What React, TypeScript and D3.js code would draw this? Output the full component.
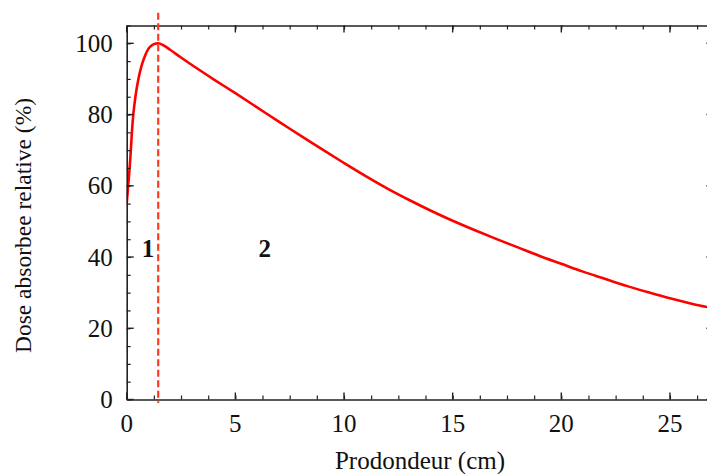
import React, { useRef, useEffect } from "react";
import * as d3 from "d3";

const width = 707;
const height = 474;
const margin = { left: 126.7, top: 25.5, bottom: 74.5 };
const pxPerCm = 21.73;

// depth (cm) and relative absorbed dose (%)
const depths = [0, 0.15, 0.31, 0.53, 0.77, 1.07, 1.45, 1.7, 2, 2.5, 3, 4, 5, 6, 7, 8, 9, 10, 11, 12, 13, 14, 15, 16, 17, 18, 19, 20, 21, 22, 23, 24, 25, 26, 26.75];
const doses = [55, 66.3, 80.4, 89.7, 95.3, 99, 100, 99.4, 98.2, 96, 93.9, 89.9, 86, 82, 78, 74.1, 70.2, 66.4, 62.7, 59.2, 56, 53, 50.2, 47.6, 45.1, 42.7, 40.3, 38.1, 35.9, 33.9, 31.9, 30.1, 28.4, 26.9, 25.9];

const xTicks = [0, 5, 10, 15, 20, 25];
const yTicks = [0, 20, 40, 60, 80, 100];
const dmax = 1.45;
const zones = [
  { label: "1", x: 0.98, y: 42.3 },
  { label: "2", x: 6.35, y: 42.3 },
];

const font = "'Liberation Serif', 'Times New Roman', serif";

const App = () => {
  const ref = useRef<SVGSVGElement>(null);

  useEffect(() => {
    const svg = d3.select(ref.current);
    svg.selectAll("*").remove();

    const xMax = 27;
    const x = d3.scaleLinear().domain([0, xMax]).range([margin.left, margin.left + xMax * pxPerCm]);
    const y = d3.scaleLinear().domain([0, 105]).range([height - margin.bottom, margin.top]);

    svg.append("defs").append("clipPath").attr("id", "plotclip")
      .append("rect")
      .attr("x", x(0)).attr("y", y(105))
      .attr("width", x(xMax) - x(0)).attr("height", y(0) - y(105));

    const data = depths.map((d, i) => ({ x: d, y: doses[i] }));
    const line = d3.line<{ x: number; y: number }>()
      .x(d => x(d.x)).y(d => y(d.y))
      .curve(d3.curveCatmullRom.alpha(0.5));

    svg.append("path")
      .datum(data)
      .attr("clip-path", "url(#plotclip)")
      .attr("fill", "none")
      .attr("stroke", "#ff0000")
      .attr("stroke-width", 2.6)
      .attr("d", line);

    // axes with inward ticks
    const axisColor = "#222";
    const xMinor = d3.range(0, xMax + 0.01, 1.25);
    const yMinor = d3.range(0, 106, 5);

    const bottom = svg.append("g").attr("transform", `translate(0,${y(0)})`)
      .call(d3.axisBottom(x).tickValues(xMinor).tickSize(-4).tickSizeOuter(0).tickFormat(() => ""));
    const top = svg.append("g").attr("transform", `translate(0,${y(105)})`)
      .call(d3.axisTop(x).tickValues(xMinor).tickSize(-4).tickSizeOuter(0).tickFormat(() => ""));
    const left = svg.append("g").attr("transform", `translate(${x(0)},0)`)
      .call(d3.axisLeft(y).tickValues(yMinor).tickSize(-4).tickSizeOuter(0).tickFormat(() => ""));
    const right = svg.append("g").attr("transform", `translate(${x(xMax)},0)`)
      .call(d3.axisRight(y).tickValues(yMinor).tickSize(-4).tickSizeOuter(0).tickFormat(() => ""));

    [bottom, top, left, right].forEach(g => {
      g.selectAll(".domain").attr("stroke", axisColor).attr("stroke-width", 1.6);
      g.selectAll(".tick line").attr("stroke", axisColor).attr("stroke-width", 1.2);
    });

    // major ticks (longer)
    const major = svg.append("g").attr("stroke", axisColor).attr("stroke-width", 1.4);
    xTicks.forEach(t => {
      major.append("line").attr("x1", x(t)).attr("x2", x(t)).attr("y1", y(0)).attr("y2", y(0) - 7);
      major.append("line").attr("x1", x(t)).attr("x2", x(t)).attr("y1", y(105)).attr("y2", y(105) + 7);
    });
    yTicks.forEach(t => {
      major.append("line").attr("x1", x(0)).attr("x2", x(0) + 7).attr("y1", y(t)).attr("y2", y(t));
      major.append("line").attr("x1", x(xMax)).attr("x2", x(xMax) - 7).attr("y1", y(t)).attr("y2", y(t));
    });

    // tick labels
    svg.append("g").selectAll("text").data(xTicks).join("text")
      .attr("x", d => x(d)).attr("y", y(0) + 32)
      .attr("text-anchor", "middle")
      .attr("font-family", font).attr("font-size", 25).attr("fill", "#111")
      .text(d => d);

    svg.append("g").selectAll("text").data(yTicks).join("text")
      .attr("x", x(0) - 14).attr("y", d => y(d))
      .attr("dy", "0.34em")
      .attr("text-anchor", "end")
      .attr("font-family", font).attr("font-size", 25).attr("fill", "#111")
      .text(d => d);

    // dmax dashed line
    svg.append("line")
      .attr("x1", x(dmax)).attr("x2", x(dmax))
      .attr("y1", y(108.6)).attr("y2", y(-1))
      .attr("stroke", "#ff3b1f")
      .attr("stroke-width", 2.2)
      .attr("stroke-dasharray", "7,3.5");

    // zone labels
    svg.append("g").selectAll("text").data(zones).join("text")
      .attr("x", d => x(d.x)).attr("y", d => y(d.y))
      .attr("dy", "0.34em")
      .attr("text-anchor", "middle")
      .attr("font-family", font).attr("font-size", 25).attr("font-weight", "bold").attr("fill", "#111")
      .text(d => d.label);

    // axis titles
    svg.append("text")
      .attr("x", 420).attr("y", height - 5)
      .attr("text-anchor", "middle")
      .attr("font-family", font).attr("font-size", 25).attr("fill", "#111")
      .text("Prodondeur (cm)");

    svg.append("text")
      .attr("transform", `translate(31,${(y(0) + y(105)) / 2 + 13}) rotate(-90)`)
      .attr("text-anchor", "middle")
      .attr("font-family", font).attr("font-size", 23.5).attr("fill", "#111")
      .text("Dose absorbee relative (%)");
  }, []);

  return (
    <svg
      ref={ref}
      width={width}
      height={height}
      style={{ position: "absolute", left: 0, top: 0, background: "#fff", overflow: "hidden" }}
    />
  );
};

export default App;
